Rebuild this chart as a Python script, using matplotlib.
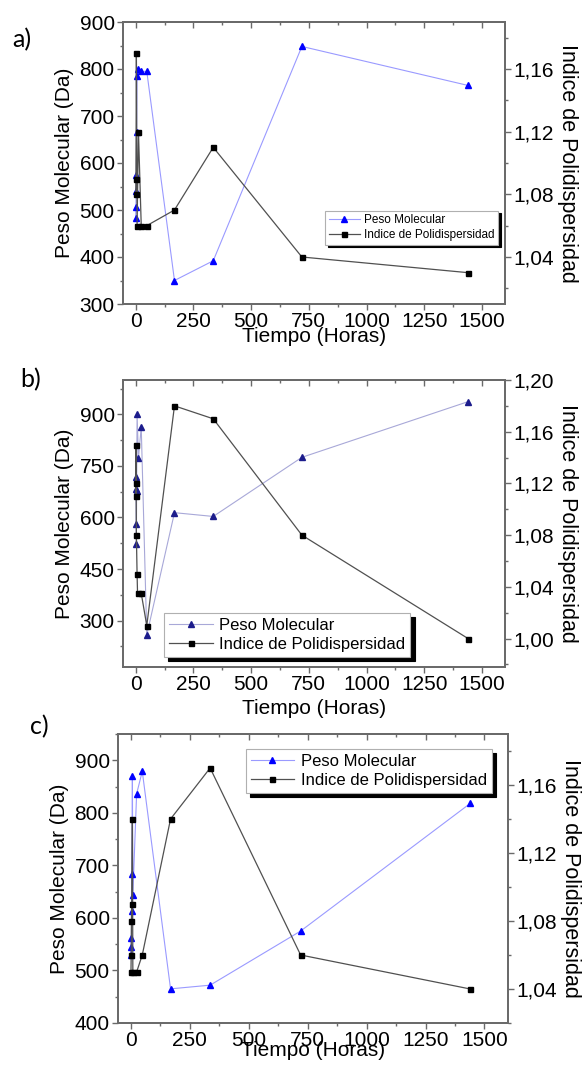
import matplotlib
matplotlib.use('Agg')
from matplotlib import pyplot as plt
from matplotlib.ticker import MultipleLocator, FuncFormatter

plt.rcParams['font.family'] = ['Liberation Sans', 'DejaVu Sans']

# ---- data ----
# a)
time_pm_a = [0, 1, 2, 3, 4, 6, 12, 24, 48, 168, 336, 720, 1440]
peso_a = [482, 507, 540, 575, 665, 786, 800, 795, 795, 350, 392, 848, 765]
time_ipd_a = [0, 1, 3, 6, 12, 24, 48, 168, 336, 720, 1440]
ipd_a = [1.08, 1.09, 1.17, 1.06, 1.12, 1.06, 1.06, 1.07, 1.11, 1.04, 1.03]

# b)
time_pm_b = [0, 1, 2, 3, 4, 6, 12, 24, 48, 168, 336, 720, 1440]
peso_b = [719, 682, 580, 523, 677, 900, 773, 863, 258, 614, 603, 775, 937]
time_ipd_b = [0, 1, 2, 3, 6, 8, 24, 48, 168, 336, 720, 1440]
ipd_b = [1.11, 1.15, 1.12, 1.08, 1.05, 1.035, 1.035, 1.01, 1.18, 1.17, 1.08, 1.00]

# c)
time_pm_c = [0, 1, 2, 3, 4, 6, 8, 24, 48, 168, 336, 720, 1440]
peso_c = [530, 544, 562, 614, 684, 870, 643, 836, 879, 465, 472, 575, 818]
time_ipd_c = [0, 1, 2, 3, 6, 8, 24, 48, 168, 336, 720, 1440]
ipd_c = [1.05, 1.06, 1.08, 1.09, 1.14, 1.05, 1.05, 1.06, 1.14, 1.17, 1.06, 1.04]

x_ticks = [0, 250, 500, 750, 1000, 1250, 1500]
label_pm = 'Peso Molecular'
label_ipd = 'Indice de Polidispersidad'

SPINE = '#6a6a6a'


def comma(v, _):
    return f'{v:.2f}'.replace('.', ',')


def draw_panel(rect, tag, tag_xy, t_pm, pm, t_ipd, ipd, ylim, ystep, ylim2,
               tri_color, tri_line, leg_anchor, leg_loc, leg_size, shadow_off,
               xlabelpad):
    ax = fig.add_axes(rect)
    ax2 = ax.twinx()

    l1, = ax.plot(t_pm, pm, color=tri_line, lw=0.8, marker='^', ms=5,
                  mfc=tri_color, mec=tri_color, label=label_pm)
    l2, = ax2.plot(t_ipd, ipd, color='#505050', lw=0.9, marker='s', ms=3.6,
                   mfc='black', mec='black', label=label_ipd)

    ax.set_xlim(-55, 1600)
    ax.set_ylim(*ylim)
    ax2.set_ylim(*ylim2)

    ax.set_xticks(x_ticks)
    ax.xaxis.set_minor_locator(MultipleLocator(125))
    ax.yaxis.set_major_locator(MultipleLocator(ystep))
    ax.yaxis.set_minor_locator(MultipleLocator(ystep / 2))
    ax2.yaxis.set_major_locator(MultipleLocator(0.04))
    ax2.yaxis.set_minor_locator(MultipleLocator(0.02))
    ax2.yaxis.set_major_formatter(FuncFormatter(comma))

    for a in (ax, ax2):
        for s in a.spines.values():
            s.set_color(SPINE)
            s.set_linewidth(1.3)
        a.tick_params(which='both', direction='out', color=SPINE,
                      labelsize=15, pad=2)
        a.tick_params(which='major', length=4, width=1)
        a.tick_params(which='minor', length=2.5, width=1)

    # ticks on the top edge point inwards
    top = ax.secondary_xaxis('top')
    top.set_xticks(x_ticks)
    top.xaxis.set_minor_locator(MultipleLocator(125))
    top.tick_params(which='both', direction='in', color=SPINE, labeltop=False)
    top.tick_params(which='major', length=4, width=1)
    top.tick_params(which='minor', length=2.5, width=1)
    top.spines['top'].set_color(SPINE)
    top.spines['top'].set_linewidth(1.3)

    ax.set_xlabel('Tiempo (Horas)', fontsize=15, labelpad=xlabelpad)
    ax.set_ylabel('Peso Molecular (Da)', fontsize=15, labelpad=4)
    ax2.set_ylabel(label_ipd, fontsize=15.5, rotation=270, labelpad=17)

    leg = ax2.legend([l1, l2], [label_pm, label_ipd], loc=leg_loc,
                     bbox_to_anchor=leg_anchor, fontsize=leg_size,
                     fancybox=False, framealpha=1, edgecolor='#b0b0b0',
                     handlelength=2.6, borderpad=0.3, labelspacing=0.25,
                     handletextpad=0.4, borderaxespad=0,
                     shadow={'color': 'black', 'alpha': 1,
                             'ox': shadow_off, 'oy': -shadow_off})
    leg.get_frame().set_linewidth(0.8)

    fig.text(tag_xy[0], tag_xy[1], tag, fontsize=18, family=['Lato', 'DejaVu Sans'],
             ha='center', va='center')
    return ax


W, H = 583, 1069
fig = plt.figure(figsize=(W / 100, H / 100), dpi=100)


def rect(left, right, top, bottom):
    return [left / W, 1 - bottom / H, (right - left) / W, (bottom - top) / H]


draw_panel(rect(123, 505, 22, 304), 'a)', (22 / W, 1 - 40 / H),
           time_pm_a, peso_a, time_ipd_a, ipd_a, (300, 900), 100, (1.010, 1.190),
           '#0000ff', '#9a9aff', (0.53, 0.21), 'lower left', 8.5, 1.5, -3)

draw_panel(rect(123, 505, 380, 667), 'b)', (31 / W, 1 - 380 / H),
           time_pm_b, peso_b, time_ipd_b, ipd_b, (165, 1000), 150, (0.978, 1.200),
           '#1c1c8c', '#a8a8d8', (0.108, 0.035), 'lower left', 12, 3, 3)

draw_panel(rect(118, 508, 734, 1023), 'c)', (39 / W, 1 - 727 / H),
           time_pm_c, peso_c, time_ipd_c, ipd_c, (400, 950), 100, (1.020, 1.190),
           '#0000ff', '#9a9aff', (0.327, 0.948), 'upper left', 12, 3, -7)

fig.savefig('out.png', dpi=100)
